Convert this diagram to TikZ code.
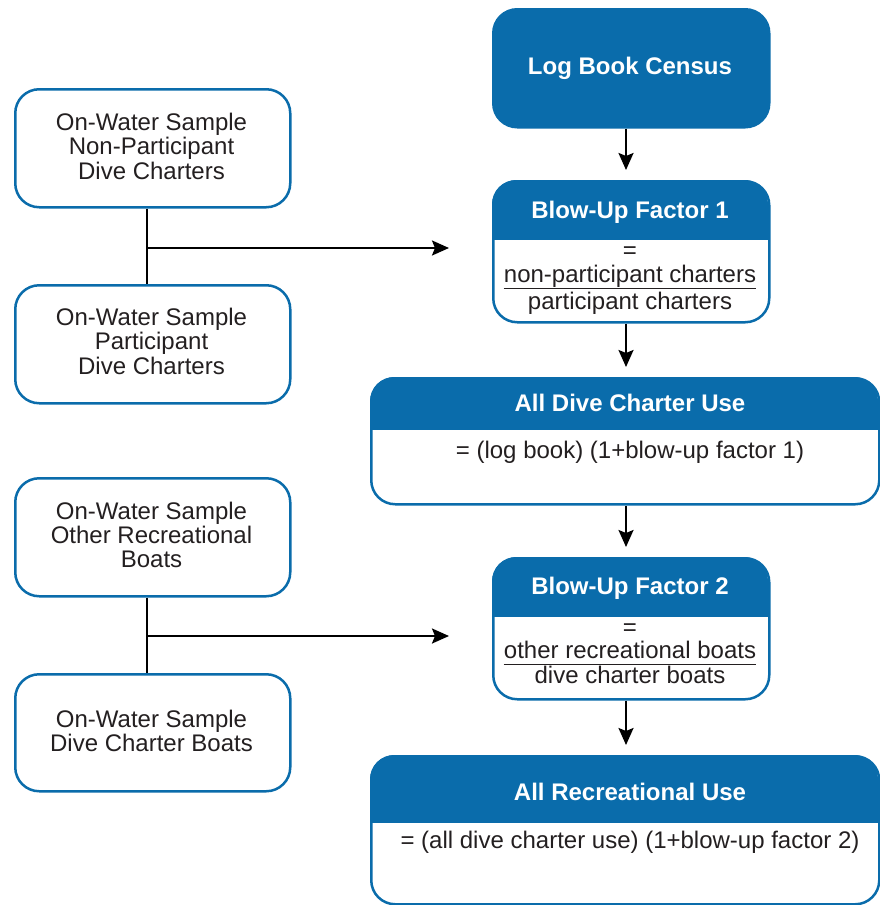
\documentclass[tikz,border=0pt]{standalone}
\usepackage{fontspec}
\setmainfont{Liberation Sans}
\usetikzlibrary{arrows.meta,calc}
\definecolor{nblue}{HTML}{0A6CAB}
\definecolor{ntext}{HTML}{231F20}
\newcommand{\lines}[1]{\begin{tabular}[t]{@{}c@{}}#1\end{tabular}}
\begin{document}
\begin{tikzpicture}[x=1pt,y=-1pt,
  wbox/.style={draw=nblue, line width=2.5pt, rounded corners=24pt, inner sep=0pt, anchor=north west},
  bbox/.style={fill=nblue, draw=nblue, line width=2.5pt, rounded corners=24pt, inner sep=0pt, anchor=north west},
  ttl/.style={text=white, font=\bfseries\fontsize{24}{24}\selectfont, inner sep=0pt, anchor=base},
  txt/.style={text=ntext, font=\fontsize{24}{24}\selectfont, inner sep=0pt, anchor=base},
  conn/.style={draw=black, line width=2.2pt},
  arr/.style={conn, -{Stealth[length=17pt,width=15pt,inset=3pt]}},
  down/.style={arr, shorten >=10pt}
]
\useasboundingbox (0,0) rectangle (880,905);

% header fills
\begin{scope}
  \clip[rounded corners=24pt] (492,180) rectangle (768,321);
  \fill[nblue] (492,180) rectangle (768,240);
\end{scope}
\begin{scope}
  \clip[rounded corners=24pt] (370,377) rectangle (878,503);
  \fill[nblue] (370,377) rectangle (878,430);
\end{scope}
\begin{scope}
  \clip[rounded corners=24pt] (492,557) rectangle (768,698);
  \fill[nblue] (492,557) rectangle (768,617);
\end{scope}
\begin{scope}
  \clip[rounded corners=24pt] (370,755) rectangle (878,903);
  \fill[nblue] (370,755) rectangle (878,823);
\end{scope}

% boxes
\node[bbox, minimum width=276pt, minimum height=118pt] (log) at (492,8) {};
\node[wbox, minimum width=276pt, minimum height=141pt] (bf1) at (492,180) {};
\node[wbox, minimum width=508pt, minimum height=126pt] (adc) at (370,377) {};
\node[wbox, minimum width=276pt, minimum height=141pt] (bf2) at (492,557) {};
\node[wbox, minimum width=508pt, minimum height=148pt] (aru) at (370,755) {};

\node[wbox, minimum width=275pt, minimum height=118pt] (l1) at (14,88) {};
\node[wbox, minimum width=275pt, minimum height=118pt] (l2) at (14,284) {};
\node[wbox, minimum width=275pt, minimum height=118pt] (l3) at (14,477) {};
\node[wbox, minimum width=275pt, minimum height=117pt] (l4) at (14,673) {};

% texts
\node[ttl] (logt) at (630,74) {Log Book Census};
\node[ttl] (bf1t) at (630,218) {Blow-Up Factor 1};
\node[txt] (bf1e) at (630,258) {=};
\node[txt] (bf1n) at (630,282) {non-participant charters};
\node[txt] (bf1d) at (630,309) {participant charters};
\draw[ntext, line width=1.3pt] ($(bf1n.base west)+(0,6.5)$) -- ($(bf1n.base east)+(0,6.5)$);

\node[ttl] (adct) at (630,411.5) {All Dive Charter Use};
\node[txt] (adcf) at (630,458) {= (log book) (1+blow-up factor 1)};

\node[ttl] (bf2t) at (630,594) {Blow-Up Factor 2};
\node[txt] (bf2e) at (630,635) {=};
\node[txt] (bf2n) at (630,658) {other recreational boats};
\node[txt] (bf2d) at (630,683) {dive charter boats};
\draw[ntext, line width=1.3pt] ($(bf2n.base west)+(0,6.5)$) -- ($(bf2n.base east)+(0,6.5)$);

\node[ttl] (arut) at (630,800) {All Recreational Use};
\node[txt] (aruf) at (630,848) {= (all dive charter use) (1+blow-up factor 2)};

\node[txt] (l1t) at (151.5,130) {\lines{On-Water Sample\\Non-Participant\\Dive Charters}};
\node[txt] (l2t) at (151.5,325) {\lines{On-Water Sample\\Participant\\Dive Charters}};
\node[txt] (l3t) at (151.5,519) {\lines{On-Water Sample\\Other Recreational\\Boats}};
\node[txt] (l4t) at (151.5,727) {\lines{On-Water Sample\\Dive Charter Boats}};

% connectors
\coordinate (ax) at (626,0);
\coordinate (lx) at (147,0);
\coordinate (j1) at (147,248);
\coordinate (a1) at (449,248);
\coordinate (j2) at (147,636);
\coordinate (a2) at (449,636);

\draw[down] (log.south -| ax) -- (bf1.north -| ax);
\draw[down] (bf1.south -| ax) -- (adc.north -| ax);
\draw[down] (adc.south -| ax) -- (bf2.north -| ax);
\draw[down] (bf2.south -| ax) -- (aru.north -| ax);

\draw[conn] (l1.south -| lx) -- (l2.north -| lx);
\draw[arr] (j1) -- (a1);
\draw[conn] (l3.south -| lx) -- (l4.north -| lx);
\draw[arr] (j2) -- (a2);
\end{tikzpicture}
\end{document}
